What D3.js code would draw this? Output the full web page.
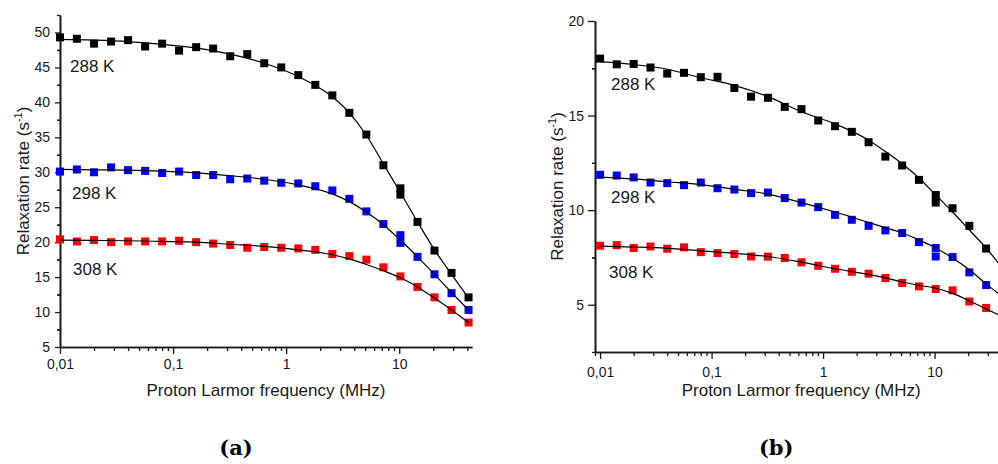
<!DOCTYPE html>
<html>
<head>
<meta charset="utf-8">
<script src="https://cdn.jsdelivr.net/npm/d3@7"></script>
<style>
  body { margin: 0; background: #fff; }
  svg { display: block; font-family: "Liberation Sans", Arial, sans-serif; }
</style>
</head>
<body>
<div id="chart"></div>
<script>
// proton Larmor frequencies (MHz), two acquisitions at ~10 MHz
const freq = [0.01, 0.0141, 0.02, 0.0283, 0.04, 0.0566, 0.08, 0.113, 0.16, 0.226, 0.32, 0.453,
              0.64, 0.905, 1.28, 1.81, 2.56, 3.62, 5.12, 7.24, 10.24, 10.24, 14.5, 20.5, 29, 41];

// panel (a) relaxation rates (s^-1)
const rateA288 = [49.3, 49.1, 48.4, 48.7, 48.9, 48.0, 48.4, 47.4, 47.9, 47.7, 46.6, 46.9,
                  45.6, 45.0, 43.9, 42.5, 41.0, 38.5, 35.4, 31.0, 27.7, 26.8, 22.9, 18.8, 15.6, 12.1];
const rateA298 = [30.1, 30.4, 30.0, 30.7, 30.3, 30.2, 29.9, 30.1, 29.6, 29.6, 29.0, 29.1,
                  28.8, 28.5, 28.4, 28.0, 27.4, 26.2, 24.4, 22.6, 21.0, 19.9, 17.9, 15.4, 12.7, 10.3];
const rateA308 = [20.4, 20.1, 20.3, 20.0, 20.1, 20.1, 20.1, 20.2, 20.0, 19.8, 19.6, 19.2,
                  19.3, 19.2, 19.1, 18.9, 18.3, 18.0, 17.5, 16.4, 15.1, null, 13.6, 12.1, 10.3, 8.5];

// panel (b) relaxation rates (s^-1)
const rateB288 = [18.01, 17.71, 17.73, 17.54, 17.22, 17.26, 17.03, 17.05, 16.46, 16.0, 15.94, 15.46,
                  15.34, 14.74, 14.44, 14.14, 13.59, 12.83, 12.36, 11.6, 10.8, 10.4, 10.1, 9.17, 7.97, 7.0];
const rateB298 = [11.87, 11.83, 11.73, 11.46, 11.43, 11.32, 11.46, 11.16, 11.09, 10.9, 10.93, 10.64,
                  10.4, 10.16, 9.75, 9.49, 9.17, 8.93, 8.79, 8.31, 8.0, 7.55, 7.52, 6.71, 6.04, 5.4];
const rateB308 = [8.12, 8.15, 8.0, 8.08, 7.96, 8.03, 7.78, 7.73, 7.68, 7.55, 7.54, 7.47,
                  7.24, 7.06, 6.9, 6.74, 6.64, 6.41, 6.15, 5.97, 5.83, null, 5.76, 5.17, 4.83, 4.4];

// fitted curves
const fitFreq = [0.01, 0.02, 0.04, 0.08, 0.16, 0.32, 0.64, 1.28, 2.56, 3.62, 5.12, 7.24, 10.24, 14.5, 20.5, 29, 41];
const fitA288 = [49.0, 48.9, 48.7, 48.3, 47.8, 46.9, 45.6, 43.7, 40.8, 38.5, 35.3, 31.2, 27.1, 22.9, 18.9, 15.4, 12.0];
const fitA298 = [30.4, 30.35, 30.3, 30.15, 29.9, 29.5, 29.0, 28.2, 26.9, 25.8, 24.3, 22.5, 20.3, 17.9, 15.4, 12.8, 10.3];
const fitA308 = [20.3, 20.25, 20.2, 20.1, 20.0, 19.7, 19.4, 18.9, 18.2, 17.6, 16.8, 15.9, 14.9, 13.6, 12.0, 10.3, 8.5];
const fitB288 = [17.85, 17.7, 17.45, 17.0, 16.6, 16.0, 15.2, 14.56, 13.7, 13.1, 12.45, 11.7, 10.8, 9.9, 8.95, 8.0, 6.9];
const fitB298 = [11.75, 11.65, 11.5, 11.35, 11.1, 10.85, 10.4, 9.9, 9.35, 9.07, 8.79, 8.43, 8.0, 7.47, 6.85, 6.1, 5.4];
const fitB308 = [8.1, 8.05, 7.98, 7.85, 7.72, 7.55, 7.25, 6.9, 6.6, 6.42, 6.2, 6.03, 5.87, 5.6, 5.2, 4.78, 4.35];

const tempLabels = ["288 K", "298 K", "308 K"];
const seriesColors = ["#000000", "#0000ff", "#ff0000"];
const xTickValues = [0.01, 0.1, 1, 10];
const xTickLabels = ["0,01", "0,1", "1", "10"];
const yTicksA = [5, 10, 15, 20, 25, 30, 35, 40, 45, 50];
const yTicksB = [5, 10, 15, 20];

const width = 998, height = 464;

const svg = d3.select("#chart").append("svg")
    .attr("width", width)
    .attr("height", height)
    .attr("viewBox", "0 0 " + width + " " + height);

const panels = [
    {
        caption: "(a)",
        xDomain: [0.01, 44], xRange: [60, 472],
        yDomain: [5, 52.5], yRange: [347, 15],
        yTicks: yTicksA,
        rates: [rateA288, rateA298, rateA308],
        fits: [fitA288, fitA298, fitA308],
        labelPos: [[70, 72], [72, 199], [73, 275]],
        yTick: 5, yPad: 5, xPad: 5,
        yTitleX: 29
    },
    {
        caption: "(b)",
        xDomain: [0.009, 45], xRange: [595, 1007.4],
        yDomain: [2.5, 20], yRange: [352, 21],
        yTicks: yTicksB,
        rates: [rateB288, rateB298, rateB308],
        fits: [fitB288, fitB298, fitB308],
        labelPos: [[611, 90], [611, 203], [609, 278]],
        yTick: 7, yPad: 4, xPad: 8,
        yTitleX: 563
    }
];

panels.forEach(drawPanel);

function drawPanel(p) {
    const x = d3.scaleLog().domain(p.xDomain).range(p.xRange),
          y = d3.scaleLinear().domain(p.yDomain).range(p.yRange),
          g = svg.append("g");

    const xBase = p.yRange[0],
          yBase = p.xRange[0];

    // minor ticks
    const xMinor = x.ticks().filter(v => !xTickValues.some(t => Math.abs(t - v) < 1e-9));
    const yMinor = p.yTicks.map(v => v - 2.5).concat(p.yTicks.map(v => v + 2.5))
                    .filter(v => v >= p.yDomain[0] && v <= p.yDomain[1]);

    g.append("g")
        .attr("transform", "translate(0," + xBase + ")")
        .call(d3.axisBottom(x).tickValues(xMinor).tickSize(4).tickSizeOuter(0).tickFormat(""))
        .call(styleAxis);

    g.append("g")
        .attr("transform", "translate(0," + xBase + ")")
        .call(d3.axisBottom(x).tickValues(xTickValues).tickSize(7).tickSizeOuter(0)
                .tickPadding(p.xPad)
                .tickFormat((d, i) => xTickLabels[i]))
        .call(styleAxis);

    g.append("g")
        .attr("transform", "translate(" + yBase + ",0)")
        .call(d3.axisLeft(y).tickValues(yMinor).tickSize(3).tickSizeOuter(0).tickFormat(""))
        .call(styleAxis);

    g.append("g")
        .attr("transform", "translate(" + yBase + ",0)")
        .call(d3.axisLeft(y).tickValues(p.yTicks).tickSize(p.yTick).tickSizeOuter(0)
                .tickPadding(p.yPad))
        .call(styleAxis);

    // data squares
    p.rates.forEach((vals, s) => {
        const pts = freq.map((f, i) => ({ f: f, v: vals[i] })).filter(d => d.v != null);
        g.append("g").selectAll("rect")
            .data(pts)
            .join("rect")
            .attr("x", d => x(d.f) - 4)
            .attr("y", d => y(d.v) - 4)
            .attr("width", 8)
            .attr("height", 8)
            .attr("fill", seriesColors[s]);
    });

    // fitted curves
    const line = d3.line()
        .x(d => x(d[0]))
        .y(d => y(d[1]))
        .curve(d3.curveMonotoneX);

    p.fits.forEach(vals => {
        g.append("path")
            .datum(fitFreq.map((f, i) => [f, vals[i]]))
            .attr("d", line)
            .attr("fill", "none")
            .attr("stroke", "#000")
            .attr("stroke-width", 1.2);
    });

    // temperature labels
    tempLabels.forEach((t, i) => {
        g.append("text")
            .attr("x", p.labelPos[i][0])
            .attr("y", p.labelPos[i][1])
            .attr("font-size", 17)
            .attr("fill", "#1a1a1a")
            .text(t);
    });

    // axis titles
    const cx = (p.xRange[0] + Math.min(p.xRange[1], 1007.4)) / 2;
    g.append("text")
        .attr("x", (p.xRange[0] + p.xRange[1]) / 2)
        .attr("y", 396)
        .attr("text-anchor", "middle")
        .attr("font-size", 17)
        .attr("fill", "#1a1a1a")
        .text("Proton Larmor frequency (MHz)");

    const yt = g.append("text")
        .attr("transform", "translate(" + p.yTitleX + "," + ((p.yRange[0] + p.yRange[1]) / 2) + ") rotate(-90)")
        .attr("text-anchor", "middle")
        .attr("font-size", 17)
        .attr("fill", "#1a1a1a");
    yt.append("tspan").text("Relaxation rate (s");
    yt.append("tspan").attr("font-size", 11).attr("dy", "-7").text("-1");
    yt.append("tspan").attr("dy", "7").text(")");

    // caption
    svg.append("text")
        .attr("x", cx - (p.caption === "(a)" ? 30 : 25))
        .attr("y", 455)
        .attr("text-anchor", "middle")
        .attr("font-family", "'DejaVu Serif', serif")
        .attr("font-weight", "bold")
        .attr("font-size", 21)
        .attr("fill", "#000")
        .text(p.caption);
}

function styleAxis(sel) {
    sel.select(".domain").attr("stroke", "#1a1a1a").attr("stroke-width", 1.6);
    sel.selectAll(".tick line").attr("stroke", "#1a1a1a").attr("stroke-width", 1.3);
    sel.selectAll(".tick text")
        .attr("font-size", 14)
        .attr("font-family", "'Liberation Sans', Arial, sans-serif")
        .attr("fill", "#1a1a1a");
}
</script>
</body>
</html>
